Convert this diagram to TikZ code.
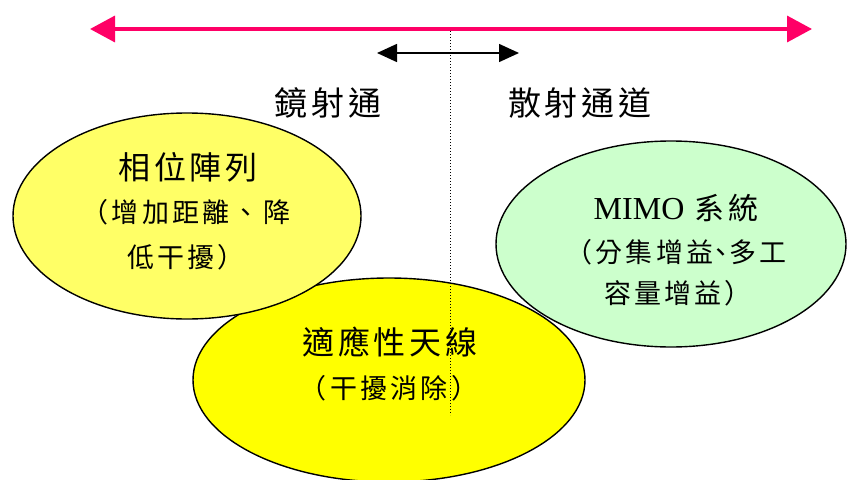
\documentclass[tikz,border=0pt]{standalone}
\usepackage{fontspec}
\setmainfont{Liberation Serif}
\newfontfamily\cjk[LetterSpace=12]{Noto Sans CJK TC}
\usetikzlibrary{arrows.meta,shapes.geometric}
\definecolor{pinkline}{HTML}{FF0066}
\definecolor{paleyellow}{HTML}{FFFF66}
\definecolor{brightyellow}{HTML}{FFFF00}
\definecolor{palegreen}{HTML}{CCFFCC}
\begin{document}
\begin{tikzpicture}[x=1pt,y=-1pt,
  blob/.style={ellipse,draw=black,line width=1.4pt,inner sep=0pt},
  titletext/.style={font=\cjk\fontsize{32}{38}\selectfont,inner sep=0pt},
  mimotext/.style={font=\cjk\fontsize{30}{36}\selectfont,inner sep=0pt},
  subtext/.style={font=\cjk\fontsize{27}{32}\selectfont,inner sep=0pt},
  labeltext/.style={font=\cjk\fontsize{33}{39}\selectfont,inner sep=0pt},
  bigarrow/.style={draw=pinkline,line width=3.5pt,{Triangle[length=25pt,width=26pt]}-{Triangle[length=25pt,width=26pt]}},
  smallarrow/.style={draw=black,line width=1.5pt,{Triangle[length=20pt,width=18pt]}-{Triangle[length=20pt,width=18pt]}},
  divider/.style={draw=black,line width=1pt,dotted}]
\useasboundingbox (0,0) rectangle (848,479);
% ellipses
\node[blob,fill=brightyellow,minimum width=392pt,minimum height=204pt] (adapt) at (389,380) {};
\node[blob,fill=paleyellow,minimum width=348pt,minimum height=206pt] (phase) at (187,216) {};
\node[blob,fill=palegreen,minimum width=350pt,minimum height=206pt] (mimo) at (671,244) {};
% arrows
\coordinate (pl) at (90,29);
\coordinate (pr) at (812,29);
\draw[bigarrow] (pl) -- (pr);
\coordinate (bl) at (377,53);
\coordinate (br) at (519,53);
\draw[smallarrow] (bl) -- (br);
\coordinate (dtop) at (450,31);
\coordinate (dbot) at (450,415);
\draw[divider] (dtop) -- (dbot);
% labels
\node[labeltext] (mirror) at (328,103) {鏡射通};
\node[labeltext] (scatter) at (580,103) {散射通道};
% texts
\node[titletext] (phaseT) at (188,167) {相位陣列};
\node[subtext] (phaseS1) at (186,212) {（增加距離、降};
\node[subtext] (phaseS2) at (186,257) {低干擾）};
\node[mimotext] (mimoT) at (676,208) {{\rmfamily\fontsize{32}{36}\selectfont MIMO} 系統};
\node[subtext] (mimoS1) at (676,252) {（分集增益\kern-0.2em 、\kern-0.2em 多工};
\node[subtext] (mimoS2) at (678,293) {容量增益）};
\node[titletext] (adaptT) at (390,342) {適應性天線};
\node[subtext] (adaptS) at (389,388) {（干擾消除）};
\end{tikzpicture}
\end{document}
